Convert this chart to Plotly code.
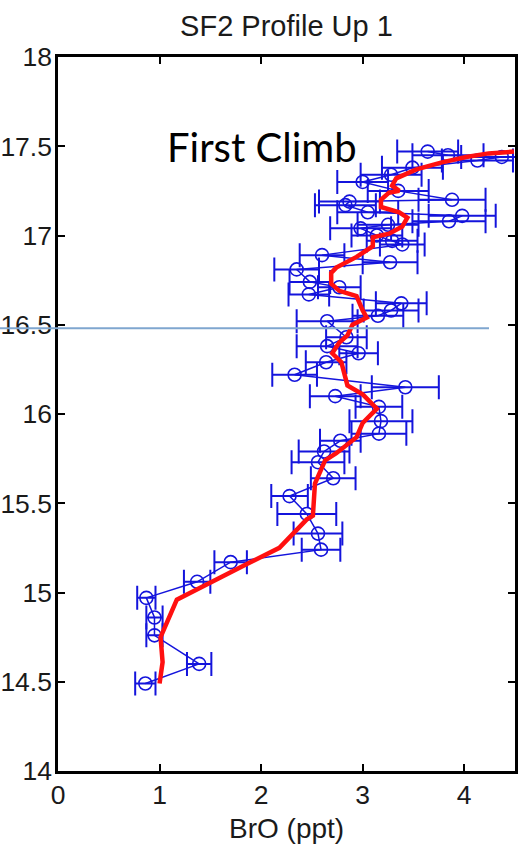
import plotly.graph_objects as go

# ---- data ----
bro = [0.86, 1.39, 0.95, 0.95, 0.87, 1.37, 1.70, 2.59, 2.56, 2.45,
       2.28, 2.71, 2.56, 2.62, 2.78, 3.16, 3.18, 3.16, 2.73, 3.42,
       2.33, 2.64, 2.96, 2.65, 2.84, 2.65, 3.15, 3.28, 3.38, 2.47,
       2.77, 2.48, 2.35, 3.27, 2.60, 3.39, 3.29, 3.14, 2.98, 3.25,
       3.85, 3.98, 3.05, 2.83, 2.87, 3.88, 3.35, 3.00, 3.28, 3.49,
       4.13, 4.37, 3.84, 3.64]
alt = [14.49, 14.60, 14.76, 14.86, 14.97, 15.06, 15.17, 15.24, 15.33, 15.44,
       15.54, 15.64, 15.73, 15.79, 15.85, 15.89, 15.96, 16.04, 16.10, 16.15,
       16.22, 16.29, 16.34, 16.38, 16.43, 16.52, 16.55, 16.58, 16.62, 16.67,
       16.71, 16.74, 16.81, 16.85, 16.89, 16.95, 16.97, 17.00, 17.04, 17.06,
       17.08, 17.11, 17.13, 17.17, 17.19, 17.20, 17.25, 17.30, 17.34, 17.38,
       17.42, 17.44, 17.45, 17.47]
err = [0.10, 0.12, 0.08, 0.08, 0.09, 0.13, 0.16, 0.19, 0.24, 0.29,
       0.18, 0.22, 0.26, 0.25, 0.20, 0.27, 0.31, 0.23, 0.25, 0.33,
       0.22, 0.20, 0.19, 0.30, 0.20, 0.30, 0.25, 0.27, 0.25, 0.20,
       0.21, 0.20, 0.22, 0.27, 0.22, 0.22, 0.25, 0.25, 0.30, 0.30,
       0.36, 0.33, 0.30, 0.30, 0.30, 0.33, 0.30, 0.25, 0.30, 0.30,
       0.35, 0.40, 0.35, 0.30]

smooth_x = [1.00, 1.03, 1.01, 1.17, 1.86, 2.18, 2.45, 2.51, 2.53, 2.63,
            2.74, 2.94, 3.00, 3.14, 3.00, 2.85, 2.79, 2.70, 2.77, 2.85,
            2.90, 3.04, 3.00, 2.94, 2.77, 2.69, 2.69, 2.74, 2.94, 3.10,
            3.10, 3.26, 3.39, 3.44, 3.36, 3.18, 3.18, 3.26, 3.36, 3.29,
            3.33, 3.53, 3.78, 4.02, 4.24, 4.49]
smooth_y = [14.49, 14.61, 14.75, 14.96, 15.16, 15.25, 15.41, 15.43, 15.61, 15.74,
            15.78, 15.87, 15.95, 16.03, 16.11, 16.16, 16.29, 16.34, 16.40, 16.44,
            16.50, 16.54, 16.58, 16.66, 16.69, 16.73, 16.79, 16.82, 16.88, 16.94,
            16.99, 17.01, 17.05, 17.10, 17.13, 17.16, 17.20, 17.24, 17.25, 17.28,
            17.32, 17.37, 17.41, 17.44, 17.46, 17.47]

ref_line_alt = 16.48

title_text = "SF2 Profile Up 1"
x_label = "BrO (ppt)"
note_text = "First Climb"

x_ticks = [0, 1, 2, 3, 4]
y_ticks = [14, 14.5, 15, 15.5, 16, 16.5, 17, 17.5, 18]
y_tick_text = ["14", "14.5", "15", "15.5", "16", "16.5", "17", "17.5", "18"]

BLUE = "#1414dc"
FONT = "Liberation Sans, Arial, sans-serif"

fig = go.Figure()
fig.add_trace(go.Scatter(
    x=bro, y=alt, mode="lines+markers",
    line=dict(color=BLUE, width=1.5),
    marker=dict(symbol="circle-open", size=13, color=BLUE, line=dict(width=1.6, color=BLUE)),
    error_x=dict(type="data", array=err, color=BLUE, thickness=2, width=12),
    showlegend=False,
))
fig.add_trace(go.Scatter(
    x=smooth_x, y=smooth_y, mode="lines",
    line=dict(color="#ff1010", width=4.5),
    showlegend=False,
))

L, R, T, B = 58, 10, 57, 75
W, H = 525, 846
pw = W - L - R

def px_to_paper_x(p):
    return (p - L) / pw

axis_common = dict(
    showline=True, linecolor="black", linewidth=2.5, mirror="allticks",
    ticks="inside", ticklen=7, tickwidth=2, tickcolor="black",
    showgrid=False, zeroline=False,
)

fig.update_layout(
    width=W, height=H,
    margin=dict(l=L, r=R, t=T, b=B),
    paper_bgcolor="white", plot_bgcolor="white",
    title=dict(text=title_text, x=(L + pw / 2) / W, xanchor="center",
               y=1 - 26 / H, yanchor="middle", yref="container",
               font=dict(family=FONT, size=29, color="#1a1a1a")),
    xaxis=dict(range=[0, 4.5], tickvals=x_ticks, automargin=False,
               ticklabelstandoff=-2,
               tickfont=dict(family=FONT, size=26.5, color="#1a1a1a"), **axis_common),
    yaxis=dict(range=[14, 18], tickvals=y_ticks, ticktext=y_tick_text,
               automargin=False, ticklabelstandoff=-2,
               tickfont=dict(family=FONT, size=26.5, color="#1a1a1a"), **axis_common),
    shapes=[
        dict(type="line", xref="paper", yref="y",
             x0=px_to_paper_x(-5), x1=px_to_paper_x(489),
             y0=ref_line_alt, y1=ref_line_alt,
             line=dict(color="#7fa6cf", width=2), layer="above"),
    ],
    annotations=[
        dict(text=note_text, xref="paper", yref="paper",
             x=px_to_paper_x(262), y=(H - B - 147) / (H - T - B),
             xanchor="center", yanchor="middle", showarrow=False,
             font=dict(family="Lato, sans-serif", size=40, color="black")),
        dict(text=x_label, xref="paper", yref="paper",
             x=0.5, y=-(828 - (H - B)) / (H - T - B),
             xanchor="center", yanchor="middle", showarrow=False,
             font=dict(family=FONT, size=28, color="#1a1a1a")),
    ],
)

fig.write_html("out.html")
